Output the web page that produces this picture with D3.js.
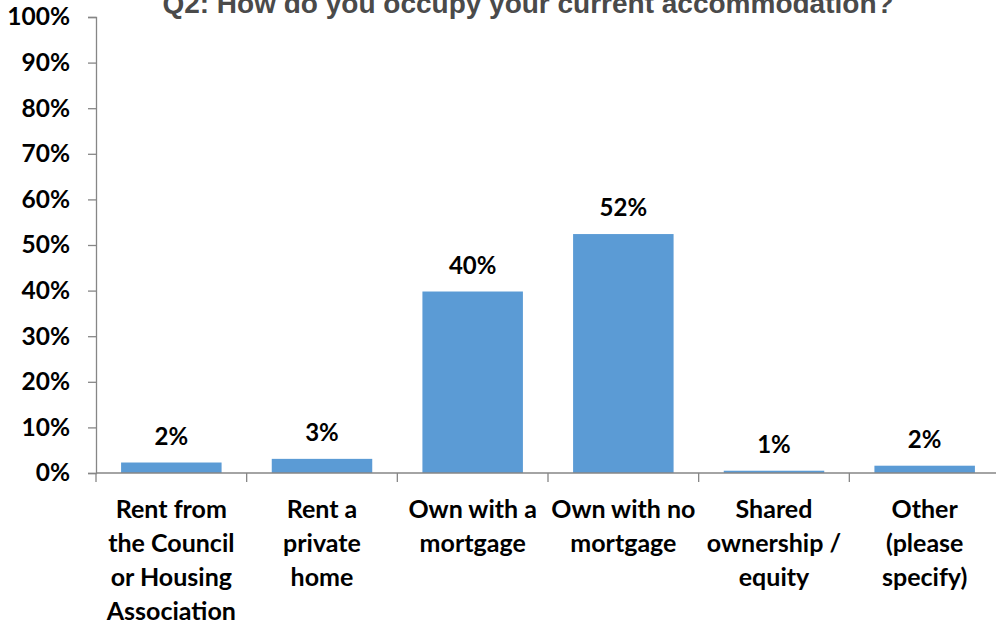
<!DOCTYPE html>
<html><head><meta charset="utf-8">
<script src="https://cdn.jsdelivr.net/npm/d3@7"></script>
<style>
html,body{margin:0;padding:0;background:#fff;}
svg{display:block;}
</style></head>
<body>
<svg id="chart" width="996" height="625"></svg>
<script>
const title = "Q2: How do you occupy your current accommodation?";
const categories = [
  ["Rent from","the Council","or Housing","Association"],
  ["Rent a","private","home"],
  ["Own with a","mortgage"],
  ["Own with no","mortgage"],
  ["Shared","ownership /","equity"],
  ["Other","(please","specify)"]
];
const values = [0.023, 0.031, 0.398, 0.524, 0.005, 0.016];
const valueLabels = ["2%","3%","40%","52%","1%","2%"];
const yTicks = [0,0.1,0.2,0.3,0.4,0.5,0.6,0.7,0.8,0.9,1.0];

(function(){
const svg = d3.select("#chart");
const pl = 96, pr = 1000, pt = 17, pb = 473;
const x = d3.scaleBand().domain(d3.range(categories.length)).range([pl, pr]).paddingInner(0.333).paddingOuter(0.1665);
const y = d3.scaleLinear().domain([0,1]).range([pb, pt]);
const axisColor = "#868686";
const font = "Lato, 'Noto Sans', sans-serif";

svg.append("g").selectAll("rect").data(values).join("rect")
  .attr("x", (d,i) => x(i)).attr("width", x.bandwidth())
  .attr("y", d => y(d)).attr("height", d => y(0) - y(d))
  .attr("fill", "#5B9BD5");

const yAxis = svg.append("g").attr("transform", `translate(${pl},0)`)
  .call(d3.axisLeft(y).tickValues(yTicks).tickFormat(d3.format(".0%")).tickSize(8).tickPadding(18));
yAxis.select(".domain").attr("stroke", axisColor).attr("stroke-width", 1.3);
yAxis.selectAll(".tick line").attr("stroke", axisColor).attr("stroke-width", 1.3);
yAxis.selectAll(".tick text").attr("fill", "#000").style("font-family", font)
  .style("font-weight", "700").style("font-size", "24.5px");

const bounds = d3.range(categories.length + 1).map(i => pl + i * (pr - pl) / categories.length);
const xg = svg.append("g");
xg.append("line").attr("x1", pl).attr("x2", pr).attr("y1", pb).attr("y2", pb)
  .attr("stroke", axisColor).attr("stroke-width", 1.3);
xg.selectAll("line.t").data(bounds).join("line").attr("class","t")
  .attr("x1", d => d).attr("x2", d => d).attr("y1", pb).attr("y2", pb + 9)
  .attr("stroke", axisColor).attr("stroke-width", 1.3);

const cl = svg.append("g").selectAll("text").data(categories).join("text")
  .attr("x", (d,i) => x(i) + x.bandwidth()/2)
  .attr("y", 518)
  .attr("text-anchor", "middle")
  .style("font-family", font).style("font-weight", "700").style("font-size", "25px").attr("fill", "#000");
cl.each(function(lines){
  const t = d3.select(this);
  lines.forEach((ln, j) => {
    t.append("tspan").attr("x", t.attr("x")).attr("y", 518 + j * 34).text(ln);
  });
});

svg.append("g").selectAll("text").data(values).join("text")
  .attr("x", (d,i) => x(i) + x.bandwidth()/2)
  .attr("y", d => y(d) - 18)
  .attr("text-anchor", "middle")
  .style("font-family", font).style("font-weight", "700").style("font-size", "24px").attr("fill", "#000")
  .text((d,i) => valueLabels[i]);

svg.append("text").attr("x", 528).attr("y", 13).attr("text-anchor", "middle")
  .style("font-family", "'Liberation Sans', Arial, sans-serif").style("font-weight", "700")
  .style("font-size", "28px").attr("fill", "#4a4a4a").text(title);
})();
</script>
</body></html>
